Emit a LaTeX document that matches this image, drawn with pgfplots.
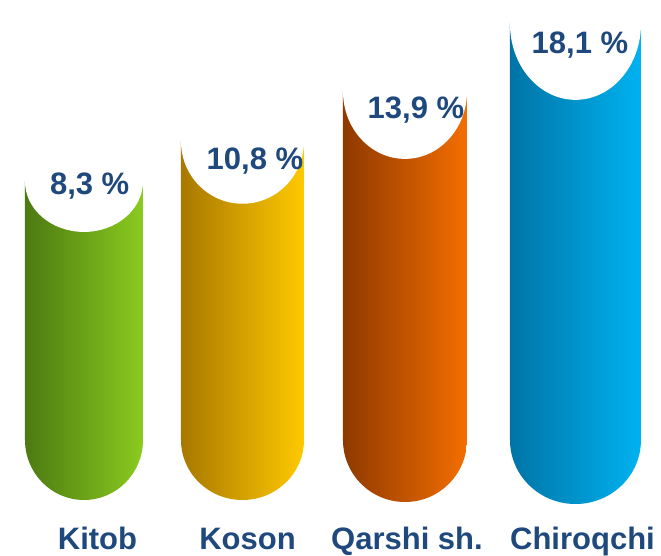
\documentclass[border=0pt]{standalone}
\usepackage{pgfplots}
\pgfplotsset{compat=1.18}
\usetikzlibrary{shapes.geometric}
\usepackage{fontspec}
\setmainfont{Liberation Sans}
\definecolor{txt}{HTML}{1F497D}
\definecolor{gA}{HTML}{4C7A12}\definecolor{gB}{HTML}{8ACB1F}
\definecolor{yA}{HTML}{A87800}\definecolor{yB}{HTML}{FFC900}
\definecolor{oA}{HTML}{8E3900}\definecolor{oB}{HTML}{F46E00}
\definecolor{bA}{HTML}{0074A6}\definecolor{bB}{HTML}{00B2F0}
\newcommand{\bigfont}{\fontsize{31}{36}\selectfont\bfseries}
\pgfplotsset{
  capsule/.style n args={7}{ybar, bar width=#1, bar shift=#2, draw=none,
    left color=#3, right color=#4,
    visualization depends on={rawy \as \rawyv},
    nodes near coords={\makebox[0pt]{\hspace*{#6}\raisebox{#7}[0pt][0pt]{\pgfmathprintnumber[fixed,fixed zerofill,precision=1,use comma,assume math mode=true]{\rawyv}~\%}}},
    nodes near coords align=center,
    every node near coord/.append style={shape=ellipse, fill=white, draw=none,
      inner sep=0pt, outer sep=0pt, minimum width=#1, minimum height=#5,
      anchor=center, xshift=#2, text=txt, font=\bigfont}},
  capbottom/.style n args={5}{ybar, bar width=#1, bar shift=#2, draw=none, fill=none,
    forget plot,
    visualization depends on={rawy \as \rawyv},
    nodes near coords={},
    nodes near coords align=center,
    every node near coord/.append style={shape=ellipse, draw=none,
      inner sep=0pt, outer sep=0pt, minimum width=#1, minimum height=#5,
      left color=#3, right color=#4, anchor=center, xshift=#2,
      yshift={-(\rawyv+7.78)*16.08pt}}},
}
\begin{document}
\begin{tikzpicture}
\begin{axis}[
  scale only axis, width=661pt, height=555pt,
  xmin=-0.496, xmax=3.542, ymin=-7.152, ymax=27.363,
  y filter/.expression={y+7.78},
  axis line style={draw=none}, major tick length=0pt,
  ytick=\empty, xtick={0,1,2,3},
  xticklabels={{\hspace*{32.6pt}Kitob},{\hspace*{5.2pt}Koson},{\hspace*{-3.2pt}Qarshi sh.},{\hspace*{20.4pt}Chiroqchi}},
  xticklabel style={anchor=base, yshift=6pt, font=\bigfont, text=txt},
  clip=false]
\addplot[capsule={118pt}{2.8pt}{gA}{gB}{101pt}{11.4pt}{-13pt}] coordinates {(0,8.3)};
\addplot[capbottom={118pt}{2.8pt}{gA}{gB}{120pt}] coordinates {(0,8.3)};
\addplot[capsule={123pt}{-2.4pt}{yA}{yB}{125pt}{25pt}{-28.7pt}] coordinates {(1,10.8)};
\addplot[capbottom={123pt}{-2.4pt}{yA}{yB}{120pt}] coordinates {(1,10.8)};
\addplot[capsule={124pt}{-3.6pt}{oA}{oB}{135pt}{22pt}{-27pt}] coordinates {(2,13.9)};
\addplot[capbottom={124pt}{-3.6pt}{oA}{oB}{124pt}] coordinates {(2,13.9)};
\addplot[capsule={131pt}{3.2pt}{bA}{bB}{152pt}{9pt}{-29.6pt}] coordinates {(3,18.1)};
\addplot[capbottom={131pt}{3.2pt}{bA}{bB}{128pt}] coordinates {(3,18.1)};
\end{axis}
\pgfresetboundingbox
\path[use as bounding box] (current axis.south west) rectangle (current axis.north east);
\end{tikzpicture}
\end{document}
